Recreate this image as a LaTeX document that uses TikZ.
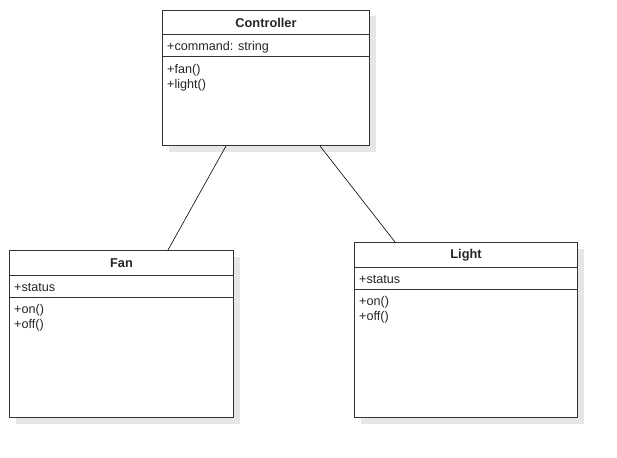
\documentclass[tikz,border=0pt]{standalone}
\usepackage{fontspec}
\setmainfont{Liberation Sans}
\usetikzlibrary{calc,shadows}
\definecolor{boxline}{HTML}{333333}
\definecolor{shadowgray}{HTML}{E6E6E6}
\tikzset{
  classbox/.style={draw=boxline, line width=1pt, fill=white, anchor=north west,
    inner sep=0pt, drop shadow={shadow xshift=6pt, shadow yshift=-6pt, fill=shadowgray, opacity=1}},
  classname/.style={font=\fontsize{12.8}{15}\selectfont\bfseries, text=black!85, inner sep=0pt},
  member/.style={font=\fontsize{12.6}{15}\selectfont, text=black!85, anchor=west, inner sep=0pt, align=left},
  sepline/.style={draw=boxline, line width=1pt},
  assoc/.style={draw=black, line width=0.6pt}
}
\begin{document}
\begin{tikzpicture}[x=1pt,y=-1pt]
\useasboundingbox[fill=white] (0,0) rectangle (617,457);

% Controller class
\node[classbox, minimum width=207pt, minimum height=135pt] (ctrl) at (162,10) {};
\draw[sepline] ([yshift=-25pt]ctrl.north west) -- ([yshift=-25pt]ctrl.north east);
\draw[sepline] ([yshift=-47pt]ctrl.north west) -- ([yshift=-47pt]ctrl.north east);
\node[classname] (ctrlname) at ($(ctrl.north)+(0,13)$) {Controller};
\node[member] (ctrlattr) at ($(ctrl.north west)+(5,37)$) {+command: string};
\node[member, anchor=north west] (ctrlops) at ($(ctrl.north west)+(5,54)$) {+fan()\\+light()};

% Fan class
\node[classbox, minimum width=224pt, minimum height=167pt] (fan) at (9,250) {};
\draw[sepline] ([yshift=-25pt]fan.north west) -- ([yshift=-25pt]fan.north east);
\draw[sepline] ([yshift=-47pt]fan.north west) -- ([yshift=-47pt]fan.north east);
\node[classname] (fanname) at ($(fan.north)+(0,13)$) {Fan};
\node[member] (fanattr) at ($(fan.north west)+(5,37)$) {+status};
\node[member, anchor=north west] (fanops) at ($(fan.north west)+(5,54)$) {+on()\\+off()};

% Light class
\node[classbox, minimum width=223pt, minimum height=175pt] (light) at (354,242) {};
\draw[sepline] ([yshift=-25pt]light.north west) -- ([yshift=-25pt]light.north east);
\draw[sepline] ([yshift=-47pt]light.north west) -- ([yshift=-47pt]light.north east);
\node[classname] (lightname) at ($(light.north)+(0,13)$) {Light};
\node[member] (lightattr) at ($(light.north west)+(5,37)$) {+status};
\node[member, anchor=north west] (lightops) at ($(light.north west)+(5,54)$) {+on()\\+off()};

% Associations
\draw[assoc] ($(ctrl.south west)+(64,0)$) -- ($(fan.north west)+(159,0)$);
\draw[assoc] ($(ctrl.south west)+(158,0)$) -- ($(light.north west)+(41,0)$);
\end{tikzpicture}
\end{document}
